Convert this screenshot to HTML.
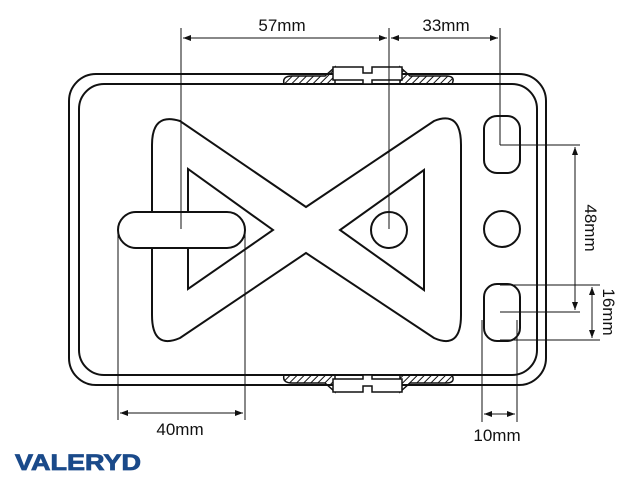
<!DOCTYPE html>
<html><head><style>body{margin:0;background:#fff}svg{display:block}</style></head><body>
<svg width="640" height="480" viewBox="0 0 640 480" xmlns="http://www.w3.org/2000/svg" font-family="Liberation Sans, sans-serif">
<defs>
<pattern id="h" width="5" height="5" patternUnits="userSpaceOnUse" patternTransform="rotate(45)"><line x1="0" y1="0" x2="0" y2="5" stroke="#111" stroke-width="2"/></pattern>
<marker id="a" markerWidth="8" markerHeight="6" refX="8" refY="3" orient="auto-start-reverse"><path d="M0,0 L8,3 L0,6 Z" fill="#111"/></marker>
</defs>
<g fill="none" stroke="#111" stroke-width="2">
<rect x="69" y="74" width="477" height="311" rx="27"/>
<rect x="79" y="84" width="458" height="291" rx="25"/>
<path d="M152,145 Q152,112 180,121 L306,207 L434,121 Q461,110 461,145 L461,315 Q461,350 434,338 L306,253 L180,338 Q152,350 152,315 Z"/>
<path d="M188,169 L188,289 L273,230 Z"/>
<path d="M424,170 L424,290 L340,230 Z"/>
<rect x="118" y="212" width="127" height="36" rx="18" fill="#fff"/>
<circle cx="389" cy="230" r="18"/>
<circle cx="502" cy="229" r="18"/>
<rect x="484" y="116" width="36" height="57" rx="13"/>
<rect x="484" y="284" width="36" height="57" rx="13"/>
</g>
<g stroke="#111" stroke-width="1.5">
<path d="M284,84 Q282,76 292,76 L325,76 L335,67 L335,84 Z" fill="url(#h)"/>
<path d="M452,84 Q456,76 446,76 L410,76 L400,67 L400,84 Z" fill="url(#h)"/>
<path d="M333,67 L363,67 L363,73 L372,73 L372,67 L402,67 L402,80 L372,80 L372,84 L363,84 L363,80 L333,80 Z" fill="#fff"/>
<path d="M284,375 Q282,383 292,383 L325,383 L335,392 L335,375 Z" fill="url(#h)"/>
<path d="M452,375 Q456,383 446,383 L410,383 L400,392 L400,375 Z" fill="url(#h)"/>
<path d="M333,392 L363,392 L363,386 L372,386 L372,392 L402,392 L402,379 L372,379 L372,375 L363,375 L363,379 L333,379 Z" fill="#fff"/>
</g>
<g stroke="#111" stroke-width="1" fill="none">
<line x1="181" y1="28" x2="181" y2="229"/>
<line x1="389" y1="28" x2="389" y2="229"/>
<line x1="500" y1="28" x2="500" y2="145"/>
<line x1="183" y1="38" x2="387" y2="38" marker-start="url(#a)" marker-end="url(#a)"/>
<line x1="391" y1="38" x2="498" y2="38" marker-start="url(#a)" marker-end="url(#a)"/>
<line x1="500" y1="145" x2="580" y2="145"/>
<line x1="500" y1="312" x2="580" y2="312"/>
<line x1="575" y1="147" x2="575" y2="310" marker-start="url(#a)" marker-end="url(#a)"/>
<line x1="500" y1="285" x2="600" y2="285"/>
<line x1="500" y1="340" x2="600" y2="340"/>
<line x1="592" y1="287" x2="592" y2="338" marker-start="url(#a)" marker-end="url(#a)"/>
<line x1="118" y1="230" x2="118" y2="420"/>
<line x1="245" y1="230" x2="245" y2="420"/>
<line x1="120" y1="413" x2="243" y2="413" marker-start="url(#a)" marker-end="url(#a)"/>
<line x1="482" y1="320" x2="482" y2="422"/>
<line x1="517" y1="320" x2="517" y2="422"/>
<line x1="484" y1="414" x2="515" y2="414" marker-start="url(#a)" marker-end="url(#a)"/>
</g>
<g fill="#111" font-size="17">
<text x="282" y="31" text-anchor="middle">57mm</text>
<text x="446" y="31" text-anchor="middle">33mm</text>
<text x="180" y="435" text-anchor="middle">40mm</text>
<text x="497" y="441" text-anchor="middle">10mm</text>
<text transform="translate(585,228) rotate(90)" text-anchor="middle">48mm</text>
<text transform="translate(603,312) rotate(90)" text-anchor="middle">16mm</text>
</g>
<text x="15" y="470" font-size="22" font-weight="bold" fill="#1a4a8a" stroke="#1a4a8a" stroke-width="0.8" textLength="126" lengthAdjust="spacingAndGlyphs">VALERYD</text>
</svg>
</body></html>
